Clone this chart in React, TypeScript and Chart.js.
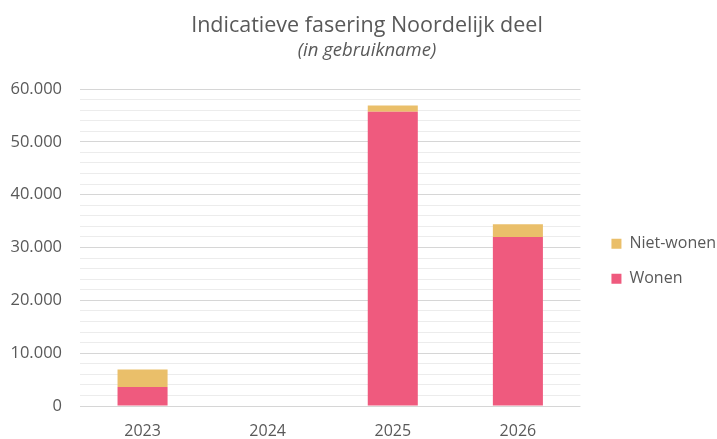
import React, { useEffect, useRef } from "react";
import { Chart, registerables } from "chart.js";

Chart.register(...registerables);

const categories = ["2023", "2024", "2025", "2026"];
const wonen = [3600, 0, 55700, 32000];
const nietWonen = [3300, 0, 1200, 2400];
const yMax = 60000;
const yStep = 2000;
const yMajor = 10000;

const titleText = "Indicatieve fasering Noordelijk deel";
const subtitleText = "(in gebruikname)";

const FONT = "'Open Sans', 'Noto Sans', sans-serif";
const TEXT = "#595959";

const fmt = (v: number) => String(v).replace(/\B(?=(\d{3})+(?!\d))/g, ".");

// nudges the legend and the titles after layout
const nudge = {
  id: "nudge",
  afterLayout(chart: any) {
    const lg = chart.legend;
    if (lg) {
      lg.left += 12;
      lg.right += 12;
    }
    (chart.boxes || []).forEach((b: any) => {
      if (b.position === "top") {
        b.left += 10;
        b.right += 10;
      }
    });
  },
};

export default function App() {
  const ref = useRef<HTMLCanvasElement | null>(null);
  useEffect(() => {
    if (!ref.current) return;
    const chart = new Chart(ref.current, {
      type: "bar",
      data: {
        labels: categories,
        datasets: [
          { label: "Wonen", data: wonen, backgroundColor: "#EF5A7E", borderWidth: 0 },
          { label: "Niet-wonen", data: nietWonen, backgroundColor: "#EABF6A", borderWidth: 0 },
        ],
      },
      plugins: [nudge],
      options: {
        animation: false,
        responsive: true,
        maintainAspectRatio: false,
        layout: { padding: { left: 0, right: 3, top: 0, bottom: 0 } },
        datasets: { bar: { barPercentage: 0.4, categoryPercentage: 1 } },
        plugins: {
          title: {
            display: true,
            text: titleText,
            color: TEXT,
            font: { family: FONT, size: 21.5, weight: "normal", lineHeight: 1.2 },
            padding: { top: 13, bottom: 0 },
          },
          subtitle: {
            display: true,
            text: subtitleText,
            color: TEXT,
            font: { family: FONT, size: 18.5, style: "italic", weight: "normal", lineHeight: 1.2 },
            padding: { top: 1, bottom: 27 },
          },
          legend: {
            position: "right",
            reverse: true,
            title: { display: true, text: "", font: { size: 12, lineHeight: 1.2 }, padding: { top: 69, bottom: 0 } },
            labels: {
              boxWidth: 10,
              boxHeight: 10,
              padding: 19,
              color: TEXT,
              font: { family: FONT, size: 16 },
            },
          },
          tooltip: { enabled: false },
        },
        scales: {
          x: {
            stacked: true,
            grid: { display: false, drawTicks: false },
            border: { display: false },
            ticks: { color: TEXT, padding: 17, font: { family: FONT, size: 16, lineHeight: 1 } },
            afterFit: (s: any) => {
              s.height = 33;
            },
          },
          y: {
            stacked: true,
            min: 0,
            max: yMax,
            border: { display: false },
            grid: {
              drawTicks: false,
              color: (c: any) => (c.tick && c.tick.value % yMajor === 0 ? "#d6d6d6" : "#ececec"),
              lineWidth: 1,
            },
            ticks: {
              stepSize: yStep,
              autoSkip: false,
              padding: 18,
              color: TEXT,
              font: { family: FONT, size: 16.5, lineHeight: 1 },
              callback: (v: any) => (Number(v) % yMajor === 0 ? fmt(Number(v)) : ""),
            },
            afterFit: (s: any) => {
              s.width = 80;
            },
          },
        },
      } as any,
    });
    return () => chart.destroy();
  }, []);
  return (
    <div style={{ position: "fixed", left: 0, top: 0, width: 717, height: 439, background: "#fff" }}>
      <canvas ref={ref} />
    </div>
  );
}
